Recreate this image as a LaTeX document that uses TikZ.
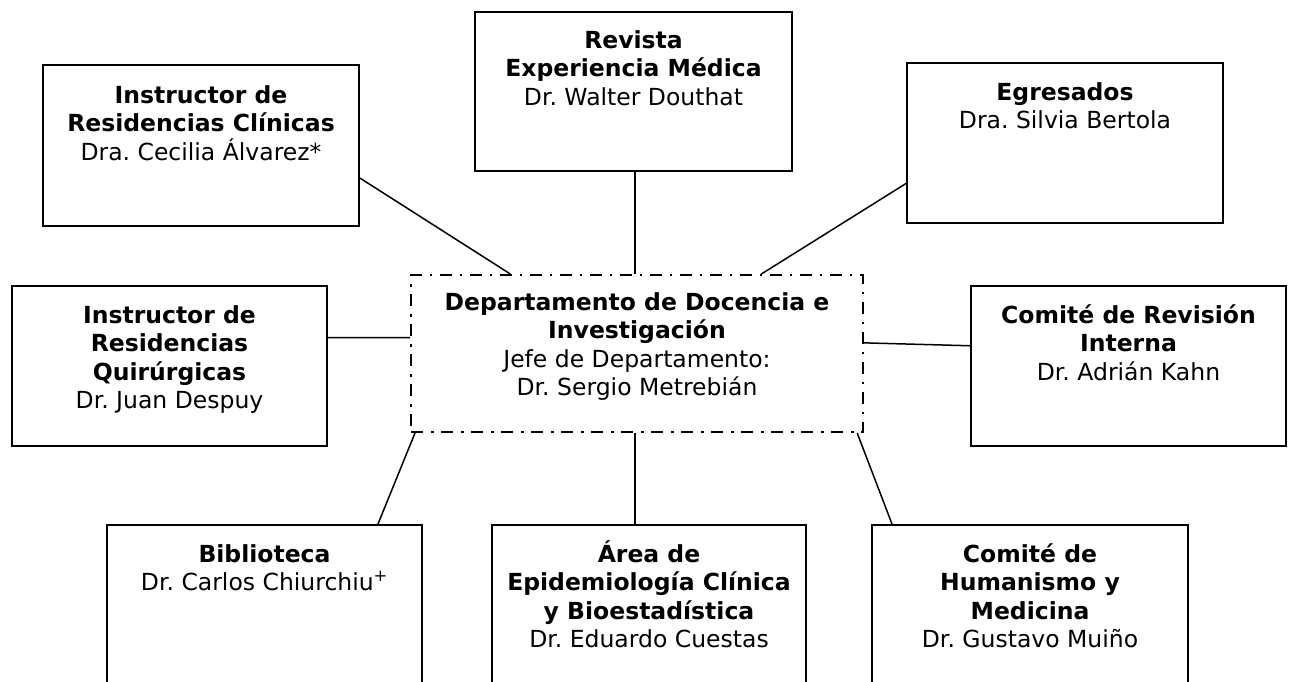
\documentclass[tikz,border=0pt]{standalone}
\usepackage{fontspec}
\setmainfont{DejaVu Sans}
\usetikzlibrary{calc}
\frenchspacing
\newcommand{\boxtxt}[4]{\parbox[t][#2][t]{#1}{\centering\rule{0pt}{#3}#4}}
\tikzset{
  orgbox/.style={draw, line width=2pt, inner sep=0pt, anchor=north west,
    font=\fontsize{23.5}{28.5}\selectfont},
  headbox/.style={orgbox, dash pattern=on 12pt off 8pt on 2.5pt off 7.5pt},
  link/.style={line width=1.5pt}
}
\begin{document}
\begin{tikzpicture}[x=1pt,y=1pt]
\useasboundingbox[fill=white] (0,0) rectangle (1292,-681);
\node[orgbox] (clin) at (42,-64) {\boxtxt{316pt}{161pt}{38pt}{\textbf{Instructor de}\\\textbf{Residencias Clínicas}\\Dra. Cecilia Álvarez*}};
\node[orgbox] (rev) at (474,-11) {\boxtxt{317pt}{159pt}{36pt}{\textbf{Revista}\\\textbf{Experiencia Médica}\\Dr. Walter Douthat}};
\node[orgbox] (egr) at (906,-62) {\boxtxt{316pt}{160pt}{37pt}{\textbf{Egresados}\\Dra. Silvia Bertola}};
\node[orgbox] (quir) at (11,-285) {\boxtxt{315pt}{160pt}{37pt}{\textbf{Instructor de}\\\textbf{Residencias}\\\textbf{Quirúrgicas}\\Dr. Juan Despuy}};
\node[orgbox] (crev) at (970,-285) {\boxtxt{315pt}{160pt}{37pt}{\textbf{Comité de Revisión}\\\textbf{Interna}\\Dr. Adrián Kahn}};
\node[headbox] (dep) at (410,-274) {\boxtxt{452pt}{157pt}{35pt}{\textbf{Departamento de Docencia e}\\\textbf{Investigación}\\Jefe de Departamento:\\Dr. Sergio Metrebián}};
\node[orgbox] (bib) at (106,-524) {\boxtxt{315pt}{162pt}{37pt}{\textbf{Biblioteca}\\Dr. Carlos Chiurchiu\textsuperscript{+}}};
\node[orgbox] (area) at (491,-524) {\boxtxt{314pt}{162pt}{37pt}{\textbf{Área de}\\\textbf{Epidemiología Clínica}\\\textbf{y Bioestadística}\\Dr. Eduardo Cuestas}};
\node[orgbox] (hum) at (871,-524) {\boxtxt{316pt}{162pt}{37pt}{\textbf{Comité de}\\\textbf{Humanismo y}\\\textbf{Medicina}\\Dr. Gustavo Muiño}};
% connectors
\draw[link] ($(clin.north east)!0.70!(clin.south east)$) -- ($(dep.north west)!0.221!(dep.north east)$);
\coordinate (revb) at ($(dep.north west)!0.496!(dep.north east)$);
\draw[link] (rev.south -| revb) -- (revb);
\draw[link] ($(egr.north west)!0.75!(egr.south west)$) -- ($(dep.north west)!0.774!(dep.north east)$);
\draw[link] ($(quir.north east)!0.325!(quir.south east)$) -- ($(dep.north west)!0.40!(dep.south west)$);
\draw[link] ($(dep.north east)!0.433!(dep.south east)$) -- ($(crev.north west)!0.375!(crev.south west)$);
\draw[link] ($(dep.south west)!0.011!(dep.south east)$) -- ($(bib.north west)!0.858!(bib.north east)$);
\coordinate (areat) at ($(dep.south west)!0.496!(dep.south east)$);
\draw[link] (areat) -- (areat |- area.north);
\draw[link] ($(dep.south west)!0.985!(dep.south east)$) -- ($(hum.north west)!0.066!(hum.north east)$);
\end{tikzpicture}
\end{document}
